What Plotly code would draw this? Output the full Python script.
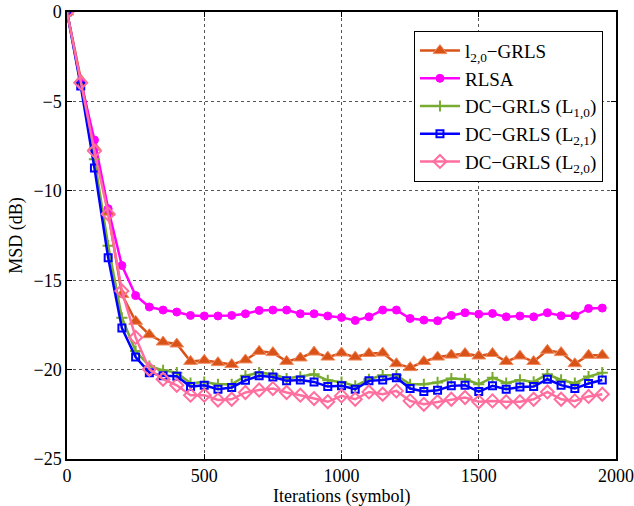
import plotly.graph_objects as go

iterations = list(range(0, 2000, 50))

l20_grls = [0, -3.8, -7.56, -11.2, -15.8, -17.3, -18.05, -18.46, -18.57, -19.54,
            -19.48, -19.61, -19.72, -19.46, -18.98, -19.05, -19.54, -19.35, -19.02, -19.3,
            -19.07, -19.3, -19.1, -19.07, -19.67, -19.89, -19.55, -19.3, -19.19, -19.1,
            -19.24, -19.1, -19.55, -19.24, -19.55, -18.92, -19.05, -19.67, -19.2, -19.2]

rlsa = [0, -3.9, -7.16, -11.0, -14.18, -15.86, -16.5, -16.67, -16.78, -16.97,
        -17.0, -17.0, -16.97, -16.88, -16.69, -16.67, -16.67, -16.88, -16.88, -17.0,
        -17.08, -17.25, -17.05, -16.67, -16.67, -17.14, -17.23, -17.27, -16.97, -16.82,
        -16.9, -16.86, -17.05, -17.0, -17.05, -16.82, -16.99, -16.99, -16.58, -16.56]

dc_l10 = [0, -4.0, -8.23, -13.07, -17.1, -18.96, -19.8, -20.04, -20.17, -20.76,
          -20.7, -20.82, -20.82, -20.35, -20.17, -20.26, -20.5, -20.4, -20.26, -20.6,
          -20.7, -20.91, -20.54, -20.32, -20.32, -20.82, -20.82, -20.72, -20.5, -20.54,
          -20.82, -20.45, -20.76, -20.58, -20.69, -20.26, -20.58, -20.76, -20.39, -20.17]

dc_l21 = [0, -4.14, -8.73, -13.75, -17.68, -19.3, -20.17, -20.35, -20.37, -20.95,
          -20.88, -21.1, -21.0, -20.6, -20.35, -20.41, -20.63, -20.58, -20.69, -20.95,
          -20.9, -21.1, -20.63, -20.58, -20.45, -21.06, -21.23, -21.15, -20.91, -20.87,
          -21.23, -20.91, -21.1, -20.97, -20.95, -20.54, -20.87, -21.06, -20.78, -20.58]

dc_l20 = [0, -3.96, -7.77, -11.3, -15.6, -18.2, -19.98, -20.54, -20.88, -21.43,
          -21.43, -21.7, -21.66, -21.28, -21.14, -21.06, -21.28, -21.43, -21.62, -21.8,
          -21.47, -21.66, -21.25, -21.38, -21.19, -21.75, -21.94, -21.8, -21.66, -21.56,
          -21.8, -21.75, -21.8, -21.8, -21.66, -21.25, -21.66, -21.75, -21.5, -21.38]

series = [
    ("l<sub>2,0</sub>\u2212GRLS", l20_grls, "#D95319",
     dict(symbol="triangle-up", size=12, color="#D95319", line=dict(color="#F08A5D", width=1))),
    ("RLSA", rlsa, "#FF00FF",
     dict(symbol="circle", size=8, color="#FF00FF", line=dict(color="#FF00FF", width=1))),
    ("DC\u2212GRLS (L<sub>1,0</sub>)", dc_l10, "#77AC30",
     dict(symbol="cross-thin", size=8, color="#77AC30", line=dict(color="#77AC30", width=2))),
    ("DC\u2212GRLS (L<sub>2,1</sub>)", dc_l21, "#0000FF",
     dict(symbol="square-open", size=7, color="#0000FF", line=dict(color="#0000FF", width=2))),
    ("DC\u2212GRLS (L<sub>2,0</sub>)", dc_l20, "#FF6E9E",
     dict(symbol="diamond-open", size=10, color="#FF6E9E", line=dict(color="#FF6E9E", width=2))),
]

fig = go.Figure()
for name, vals, color, marker in series:
    fig.add_trace(go.Scatter(
        x=iterations, y=vals, name=name, mode="lines+markers",
        line=dict(color=color, width=2.5), marker=marker,
    ))

font_family = "Times New Roman, Liberation Serif, serif"

fig.update_layout(
    template="none",
    width=634, height=506,
    margin=dict(l=67, r=18, t=12, b=47, autoexpand=False),
    paper_bgcolor="white", plot_bgcolor="white",
    font=dict(family=font_family, size=18, color="black"),
    showlegend=True,
    legend=dict(
        x=0.632, y=0.958, xanchor="left", yanchor="top",
        bgcolor="white", bordercolor="black", borderwidth=1,
        font=dict(family=font_family, size=19, color="black"),
        itemwidth=40, tracegroupgap=0,
    ),
    xaxis=dict(
        range=[0, 2000], tickvals=[0, 500, 1000, 1500, 2000],
        automargin=False,
        showgrid=True, gridcolor="#555", griddash="dot", gridwidth=1,
        showline=True, linecolor="black", linewidth=1.5, mirror="ticks",
        ticks="inside", ticklen=5, tickcolor="black",
        zeroline=False,
        tickfont=dict(family=font_family, size=18),
    ),
    yaxis=dict(
        range=[-25, 0], tickvals=[-25, -20, -15, -10, -5, 0],
        automargin=False,
        showgrid=True, gridcolor="#555", griddash="dot", gridwidth=1,
        showline=True, linecolor="black", linewidth=1.5, mirror="ticks",
        ticks="inside", ticklen=5, tickcolor="black",
        zeroline=False,
        title=dict(text="MSD (dB)", standoff=6,
                   font=dict(family=font_family, size=18)),
        tickfont=dict(family=font_family, size=18),
    ),
    annotations=[dict(
        text="Iterations (symbol)", xref="paper", yref="paper",
        x=0.5, y=0, xanchor="center", yanchor="middle", yshift=-37,
        showarrow=False, font=dict(family=font_family, size=18, color="black"),
    )],
)

fig.write_html("out.html", config={"displayModeBar": False},
               post_script="document.body.style.margin='0';document.body.style.overflow='hidden';")
